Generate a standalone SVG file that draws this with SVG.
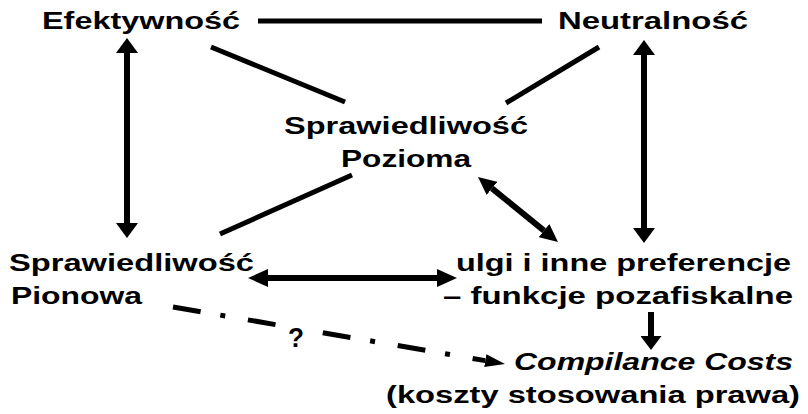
<svg xmlns="http://www.w3.org/2000/svg" width="808" height="414" viewBox="0 0 808 414">
<style>
text{font-family:"Liberation Sans",Arial,sans-serif;font-weight:bold;font-size:23px;fill:#000}
.it{font-style:italic}
.q{font-size:27px}
.ln{stroke:#000;stroke-width:5;fill:none}
.sh{stroke:#000;stroke-width:6;fill:none}
</style>
<defs>
<marker id="av" markerUnits="userSpaceOnUse" markerWidth="15" markerHeight="22" refX="0" refY="11" orient="auto-start-reverse"><path d="M0,0 L15,11 L0,22 z" fill="#000"/></marker>
<marker id="ah" markerUnits="userSpaceOnUse" markerWidth="20" markerHeight="18" refX="0" refY="9" orient="auto-start-reverse"><path d="M0,0 L20,9 L0,18 z" fill="#000"/></marker>
<marker id="ad" markerUnits="userSpaceOnUse" markerWidth="18" markerHeight="17" refX="0" refY="8.5" orient="auto-start-reverse"><path d="M0,0 L18,8.5 L0,17 z" fill="#000"/></marker>
<marker id="an" markerUnits="userSpaceOnUse" markerWidth="14" markerHeight="21" refX="0" refY="10.5" orient="auto"><path d="M0,0 L14,10.5 L0,21 z" fill="#000"/></marker>
<marker id="aq" markerUnits="userSpaceOnUse" markerWidth="20" markerHeight="13" refX="0" refY="6.5" orient="auto"><path d="M0,0 L20,6.5 L0,13 z" fill="#000"/></marker>
</defs>
<g id="connectors">
<line class="ln" x1="258" y1="21" x2="542" y2="21"/>
<line class="ln" x1="211" y1="47" x2="345" y2="102"/>
<line class="ln" x1="599" y1="47" x2="506" y2="103"/>
<line class="ln" x1="352" y1="175" x2="220" y2="234"/>
<line class="sh" x1="127" y1="53" x2="127" y2="223" marker-start="url(#av)" marker-end="url(#av)"/>
<line class="sh" x1="644" y1="55" x2="644" y2="228" marker-start="url(#av)" marker-end="url(#av)"/>
<line class="sh" x1="268" y1="278" x2="437" y2="278" marker-start="url(#ah)" marker-end="url(#ah)"/>
<line class="sh" x1="492" y1="188.4" x2="544" y2="230.6" marker-start="url(#ad)" marker-end="url(#ad)"/>
<line class="sh" x1="651" y1="312" x2="651" y2="336" marker-end="url(#an)"/>
<path class="ln" d="M173,307 L485.3,360.6" stroke-dasharray="28 20 5 23 28 48 28 20 5 23 28 20 5 23 20 100" marker-end="url(#aq)"/>
</g>
<g id="efektywnosc"><text x="42" y="29" textLength="198" lengthAdjust="spacingAndGlyphs">Efektywność</text></g>
<g id="neutralnosc"><text x="558" y="29" textLength="190" lengthAdjust="spacingAndGlyphs">Neutralność</text></g>
<g id="spr-pozioma">
<text x="284" y="134" textLength="244" lengthAdjust="spacingAndGlyphs">Sprawiedliwość</text>
<text x="341" y="167" textLength="130" lengthAdjust="spacingAndGlyphs">Pozioma</text>
</g>
<g id="spr-pionowa">
<text x="9" y="271" textLength="245" lengthAdjust="spacingAndGlyphs">Sprawiedliwość</text>
<text x="11" y="304" textLength="131" lengthAdjust="spacingAndGlyphs">Pionowa</text>
</g>
<g id="ulgi">
<text x="456" y="271" textLength="335" lengthAdjust="spacingAndGlyphs">ulgi i inne preferencje</text>
<text x="443" y="304" textLength="350" lengthAdjust="spacingAndGlyphs">– funkcje pozafiskalne</text>
</g>
<g id="compliance">
<text class="it" x="514" y="370" textLength="279" lengthAdjust="spacingAndGlyphs">Compilance Costs</text>
<text x="386" y="403" textLength="414" lengthAdjust="spacingAndGlyphs">(koszty stosowania prawa)</text>
</g>
<g id="question"><text class="q" x="288" y="347" textLength="16" lengthAdjust="spacingAndGlyphs">?</text></g>
</svg>
